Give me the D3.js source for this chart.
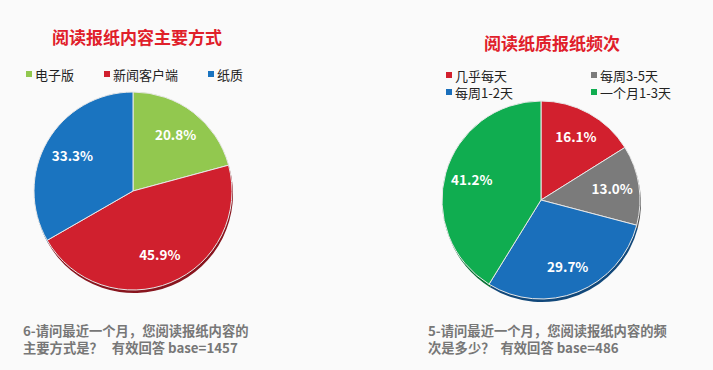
<!DOCTYPE html>
<html>
<head>
<meta charset="utf-8">
<script src="https://cdn.jsdelivr.net/npm/d3@7"></script>
<style>
  body { margin: 0; background: #fafafa; }
  svg { display: block; font-family: "Noto Sans CJK SC", "Noto Sans", sans-serif; }
</style>
</head>
<body>
<svg id="chart" width="713" height="370"></svg>
<script>
// left pie: main way of reading newspaper content
var modeLabels = ["电子版", "新闻客户端", "纸质"];
var modeValues = [20.8, 45.9, 33.3];
var modeColors = ["#92c84f", "#d0202e", "#1a74c0"];

// right pie: frequency of reading paper newspapers
var freqLabels = ["几乎每天", "每周3-5天", "每周1-2天", "一个月1-3天"];
var freqValues = [16.1, 13.0, 29.7, 41.2];
var freqColors = ["#d2202e", "#7b7b7b", "#1a6fbb", "#10ad50"];

var svg = d3.select("#chart");

function drawPie(cx, cy, r, values, colors, labelR) {
  var pie = d3.pie().sort(null).value(function(d) { return d; });
  var arcs = pie(values);
  var arc = d3.arc().innerRadius(0).outerRadius(r);
  var labelArc = d3.arc().innerRadius(labelR).outerRadius(labelR);

  var g = svg.append("g").attr("transform", "translate(" + cx + "," + cy + ")");

  // thin dark shadow underneath
  g.append("g").attr("transform", "translate(1,3)")
    .selectAll("path")
    .data(arcs)
    .enter().append("path")
      .attr("d", arc)
      .attr("fill", function(d, i) { return d3.color(colors[i]).darker(1.2); });

  g.selectAll("path.slice")
    .data(arcs)
    .enter().append("path")
      .attr("class", "slice")
      .attr("d", arc)
      .attr("fill", function(d, i) { return colors[i]; })
      .attr("stroke", "#e8e8e8")
      .attr("stroke-width", 1);

  g.selectAll("text")
    .data(arcs)
    .enter().append("text")
      .attr("transform", function(d) { return "translate(" + labelArc.centroid(d) + ")"; })
      .attr("text-anchor", "middle")
      .attr("dy", "0.35em")
      .attr("fill", "#fff")
      .attr("font-size", 13.5)
      .attr("font-weight", "bold")
      .text(function(d) { return d.data.toFixed(1) + "%"; });
}

function title(x, y, txt) {
  svg.append("text")
    .attr("x", x).attr("y", y)
    .attr("text-anchor", "middle")
    .attr("fill", "#e0202a")
    .attr("font-size", 17)
    .attr("font-weight", "bold")
    .text(txt);
}

function legendItem(x, y, color, txt) {
  svg.append("rect")
    .attr("x", x).attr("y", y - 4)
    .attr("width", 6).attr("height", 6)
    .attr("fill", color);
  svg.append("text")
    .attr("x", x + 9).attr("y", y + 5)
    .attr("fill", "#222")
    .attr("font-size", 13)
    .text(txt);
}

function note(x, y, lines) {
  lines.forEach(function(l, i) {
    svg.append("text")
      .attr("x", x).attr("y", y + i * 17)
      .attr("fill", "#777")
      .attr("font-size", 13.3)
      .attr("font-weight", "bold")
      .attr("xml:space", "preserve")
      .text(l);
  });
}

// left chart
title(137, 44, "阅读报纸内容主要方式");
var leftLegendX = [26, 104, 208];
modeLabels.forEach(function(l, i) { legendItem(leftLegendX[i], 75, modeColors[i], l); });
drawPie(133, 191, 99, modeValues, modeColors, 70);
note(23, 336, ["6-请问最近一个月，您阅读报纸内容的", "主要方式是？   有效回答 base=1457"]);

// right chart
title(552, 50, "阅读纸质报纸频次");
var rightLegendPos = [[446, 76], [591, 76], [446, 93], [591, 93]];
freqLabels.forEach(function(l, i) {
  legendItem(rightLegendPos[i][0], rightLegendPos[i][1], freqColors[i], l);
});
drawPie(541, 200, 99, freqValues, freqColors, 72);
note(428, 336, ["5-请问最近一个月，您阅读报纸内容的频", "次是多少？  有效回答 base=486"]);
</script>
</body>
</html>
